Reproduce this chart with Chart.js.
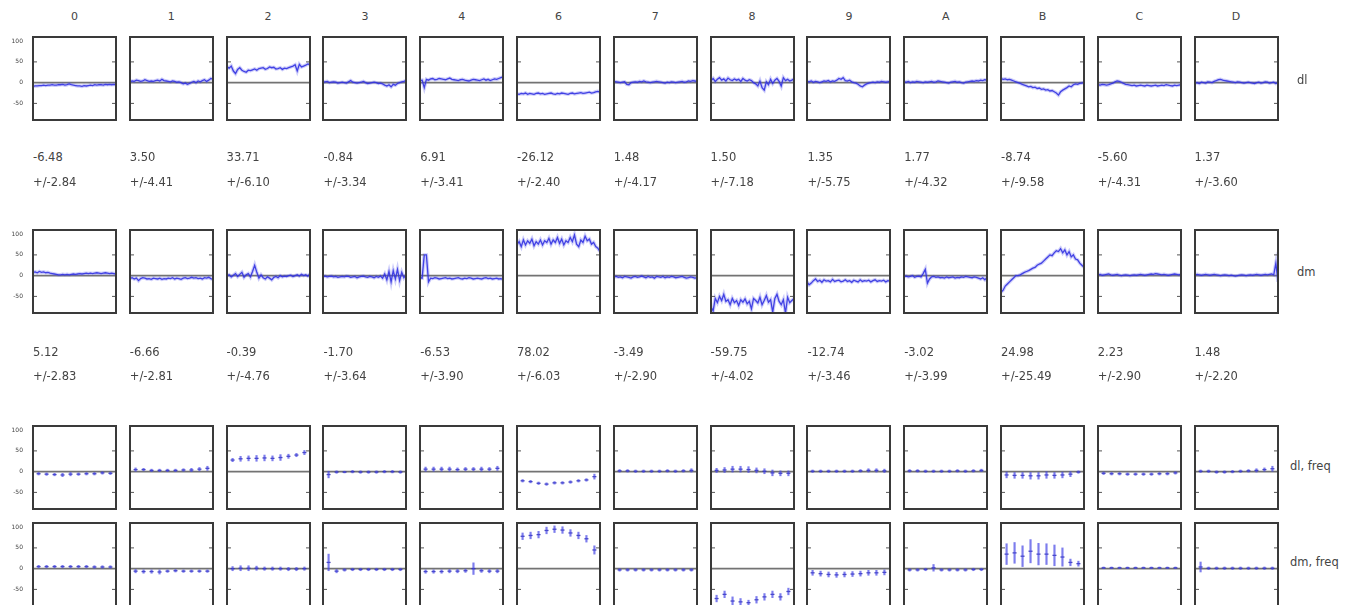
<!DOCTYPE html>
<html>
<head>
<meta charset="utf-8">
<script src="https://cdn.jsdelivr.net/npm/chart.js@4.4.0/dist/chart.umd.min.js"></script>
<style>
    html, body { margin: 0; padding: 0; background: #fff; overflow: hidden; }
    body { width: 1352px; height: 605px; position: relative; font-family: 'DejaVu Sans', sans-serif; color: #444; }
    canvas { position: absolute; }
    .lbl { position: absolute; font-size: 11.5px; line-height: 13px; white-space: nowrap; }
    .head { position: absolute; font-size: 11px; width: 83px; text-align: center; }
</style>
</head>
<body>
<script>
// colonnes (chiffres hex, sans le 5)
const columns = ['0', '1', '2', '3', '4', '6', '7', '8', '9', 'A', 'B', 'C', 'D'];
const rowNames = ['dl', 'dm', 'dl, freq', 'dm, freq'];
const yTicks = [-50, 0, 50, 100];

// séries temporelles, ligne "dl"
const dlData = [
    [-9,-8,-8,-7,-7,-6,-7,-6,-6,-5,-6,-6,-5,-5,-4,-6,-5,-3,-5,-6,-7,-8,-8,-9,-7,-8,-7,-6,-7,-5,-6,-5,-5,-6,-4,-5,-4,-5,-4,-5],
    [2,4,3,6,5,3,4,7,5,3,4,3,5,6,4,8,5,4,3,2,4,3,1,2,0,-3,-1,-4,-2,1,3,0,4,2,5,7,3,6,10,8],
    [38,35,40,28,22,32,36,30,27,25,30,29,31,33,30,34,35,36,32,34,38,36,37,33,34,36,32,35,34,36,38,40,43,28,44,38,40,42,45,43],
    [1,2,3,0,1,2,1,-1,0,1,0,-1,2,5,1,0,-1,0,1,3,0,-2,-1,0,1,0,-2,-1,-3,-6,-8,-5,-10,-4,-6,-2,0,2,3,5],
    [5,6,-12,8,6,9,10,7,8,10,9,8,7,9,11,8,7,6,5,7,8,6,5,4,6,8,7,6,5,7,9,6,8,5,7,9,8,10,12,14],
    [-27,-28,-26,-27,-25,-28,-26,-27,-28,-26,-25,-27,-26,-28,-27,-26,-25,-27,-28,-26,-27,-25,-26,-27,-28,-26,-25,-27,-26,-25,-24,-26,-25,-24,-23,-25,-24,-22,-21,-23],
    [3,2,1,0,1,2,-4,-5,0,1,2,1,3,2,4,2,1,0,1,2,3,2,1,0,-1,1,0,2,1,0,1,2,3,1,2,4,3,5,4,3],
    [5,10,3,8,12,6,9,4,11,7,5,9,6,8,3,10,6,4,7,5,0,-3,-8,4,-12,-18,2,-5,8,-2,6,10,3,-8,12,5,8,4,6,9],
    [3,2,4,1,3,2,0,2,4,3,5,2,4,3,6,10,8,12,5,4,6,2,0,-1,-4,-8,-10,-6,-3,-1,0,1,0,2,1,3,2,1,2,3],
    [2,1,3,0,2,1,3,2,1,0,2,1,2,3,1,2,4,3,2,1,0,-1,1,2,3,1,2,0,-1,1,2,3,4,3,5,4,6,5,7,6],
    [10,8,9,7,8,6,4,2,0,-2,-4,-6,-8,-10,-9,-12,-11,-14,-13,-16,-15,-18,-17,-20,-19,-22,-25,-30,-22,-18,-15,-12,-8,-10,-5,-3,-4,-2,-1,0],
    [-5,-6,-4,-5,-6,-5,-3,-1,2,4,3,1,-2,-4,-5,-6,-7,-6,-8,-7,-6,-7,-8,-6,-7,-8,-7,-6,-8,-7,-6,-7,-5,-6,-7,-8,-6,-7,-6,-5],
    [-1,0,-2,1,0,-1,2,1,0,3,5,7,8,6,5,4,3,2,1,0,2,1,0,-1,0,1,0,-1,-2,0,1,-1,0,2,1,-1,0,1,-2,0]
];

// séries temporelles, ligne "dm"
const dmData = [
    [8,9,7,10,8,9,7,8,6,5,4,3,2,2,3,2,3,2,3,4,3,4,5,4,5,6,5,6,5,6,7,6,5,6,7,6,5,6,5,4],
    [-7,-5,-8,-6,-12,-7,-5,-6,-8,-7,-9,-6,-7,-8,-6,-9,-7,-8,-6,-7,-5,-8,-6,-7,-9,-6,-5,-7,-6,-4,-6,-5,-7,-6,-8,-5,-6,-4,-7,-9],
    [0,2,-3,1,5,-2,3,8,-4,2,5,-3,10,25,8,-6,2,-5,-8,-3,-6,-10,-4,-2,-5,0,-3,-1,-2,0,1,-2,0,2,-1,3,0,2,-1,4],
    [-2,-1,-3,-2,-1,-3,-2,-4,-3,-2,-3,-1,-2,-4,-3,-2,-5,-3,-2,-1,-3,-4,-2,-3,-5,-2,-4,-1,-6,4,-10,10,-15,12,-8,15,-12,8,-5,2],
    [-5,-6,50,50,-15,-6,-7,-5,-6,-8,-7,-6,-5,-7,-6,-8,-7,-6,-5,-7,-8,-6,-7,-5,-6,-8,-7,-6,-7,-8,-6,-5,-7,-6,-8,-7,-6,-8,-7,-9],
    [75,82,70,86,74,84,78,88,72,82,76,86,74,84,80,90,76,86,80,92,78,88,74,84,80,92,82,98,76,70,86,80,95,84,88,76,80,70,66,58],
    [-3,-2,-4,-3,-5,-2,-3,-4,-6,-3,-2,-4,-3,-1,-3,-5,-2,-4,-3,-6,-2,-3,-4,-2,-5,-3,-4,-2,-3,-5,-4,-3,-2,-4,-6,-5,-3,-4,-6,-5],
    [-75,-85,-55,-65,-50,-60,-45,-62,-58,-70,-55,-65,-60,-72,-58,-64,-56,-68,-62,-80,-55,-60,-66,-52,-70,-60,-48,-64,-58,-88,-55,-45,-62,-70,-58,-90,-52,-65,-60,-55],
    [-15,-22,-18,-12,-8,-14,-11,-16,-10,-13,-12,-15,-9,-14,-12,-11,-15,-13,-10,-14,-12,-16,-11,-13,-15,-10,-14,-12,-13,-11,-15,-12,-10,-14,-12,-13,-11,-15,-12,-13],
    [-2,-1,-3,-2,0,-4,-2,-1,-3,5,15,-18,-8,-3,-2,-4,-3,-5,-4,-6,-3,-5,-4,-3,-6,-4,-5,-3,-4,-2,-3,-4,-5,-3,-4,-6,-8,-5,-10,-4],
    [-40,-35,-25,-20,-15,-10,-5,0,0,2,5,8,10,12,15,18,20,25,28,30,35,40,45,50,48,55,60,58,65,55,62,50,58,45,50,40,38,30,25,20],
    [2,3,1,2,3,4,2,1,2,3,1,0,1,2,1,0,1,2,1,2,3,2,1,2,3,4,3,5,4,3,2,3,2,1,2,3,4,3,2,3],
    [2,3,2,1,2,3,2,1,2,3,2,1,0,1,2,1,0,1,0,-1,0,1,2,1,0,1,2,1,2,3,2,1,2,3,2,3,4,2,30,-15]
];

// moyennes affichées sous les panneaux
const dlMean = ['-6.48', '3.50', '33.71', '-0.84', '6.91', '-26.12', '1.48', '1.50', '1.35', '1.77', '-8.74', '-5.60', '1.37'];
const dlErr = ['2.84', '4.41', '6.10', '3.34', '3.41', '2.40', '4.17', '7.18', '5.75', '4.32', '9.58', '4.31', '3.60'];
const dmMean = ['5.12', '-6.66', '-0.39', '-1.70', '-6.53', '78.02', '-3.49', '-59.75', '-12.74', '-3.02', '24.98', '2.23', '1.48'];
const dmErr = ['2.83', '2.81', '4.76', '3.64', '3.90', '6.03', '2.90', '4.02', '3.46', '3.99', '25.49', '2.90', '2.20'];

// points par fréquence (moyenne +/- erreur)
const dlFreqMean = [
    [-5,-6,-7,-8,-6,-6,-5,-5,-3,-4],
    [5,5,3,3,3,3,4,4,6,8],
    [28,31,32,32,33,32,34,37,40,46],
    [-7,-1,-1,0,-1,-1,-1,0,0,-1],
    [6,6,6,6,5,6,6,6,6,8],
    [-22,-24,-28,-30,-27,-27,-25,-22,-20,-12],
    [2,2,1,1,1,1,2,1,2,3],
    [3,4,6,6,5,3,1,-3,-4,-4],
    [1,1,1,1,1,1,2,3,3,2],
    [2,2,1,1,1,1,2,1,2,3],
    [-8,-9,-9,-10,-10,-8,-9,-8,-6,-1],
    [-4,-5,-5,-6,-6,-6,-6,-5,-5,-3],
    [1,1,-1,-1,0,1,2,3,5,7]
];
const dlFreqErr = [
    [3,3,3,4,4,3,3,3,3,3],
    [4,3,3,3,3,3,3,4,4,5],
    [4,6,6,7,7,6,7,5,4,5],
    [8,3,2,3,3,3,3,3,3,3],
    [5,5,5,5,4,4,4,5,4,5],
    [3,3,3,3,3,3,3,3,3,6],
    [3,3,3,3,3,3,3,3,3,4],
    [5,6,7,7,7,6,6,7,6,6],
    [3,3,3,3,3,3,3,4,4,4],
    [3,3,3,3,3,3,3,3,3,3],
    [7,7,7,8,8,8,7,7,6,3],
    [3,3,3,3,3,3,3,3,3,3],
    [3,3,3,3,3,3,3,4,4,6]
];
const dmFreqMean = [
    [5,5,5,5,5,5,5,4,4,4],
    [-6,-7,-7,-8,-6,-5,-6,-6,-6,-6],
    [0,1,1,1,0,0,0,-1,-1,0],
    [15,-6,-3,-2,-2,-2,-2,-2,-2,-2],
    [-7,-7,-7,-6,-6,-5,0,-5,-6,-6],
    [78,80,82,92,95,93,86,80,72,45],
    [-3,-3,-3,-3,-3,-3,-3,-3,-3,-3],
    [-72,-62,-78,-80,-82,-75,-68,-62,-68,-55],
    [-10,-12,-14,-15,-14,-13,-12,-10,-10,-9],
    [-3,-3,-2,2,-3,-3,-3,-3,-2,-2],
    [35,38,30,42,35,35,32,28,15,12],
    [2,2,2,2,2,2,2,2,2,2],
    [4,1,1,1,1,1,1,1,1,1]
];
const dmFreqErr = [
    [3,3,3,3,3,3,3,3,3,3],
    [4,4,4,5,3,3,3,3,3,3],
    [5,6,6,5,4,4,4,4,4,4],
    [20,4,3,3,3,3,3,3,3,3],
    [4,4,4,4,4,4,14,4,4,4],
    [8,8,8,8,8,8,8,8,8,10],
    [3,3,3,3,3,3,3,3,3,3],
    [8,8,10,8,6,8,8,8,8,8],
    [6,6,6,6,6,6,6,6,6,6],
    [3,3,3,8,3,3,3,3,3,3],
    [25,25,25,28,26,25,25,22,8,6],
    [2,2,2,2,2,2,2,2,2,2],
    [12,3,3,3,3,3,3,3,3,3]
];

Chart.defaults.font.family = "'DejaVu Sans', sans-serif";
Chart.defaults.animation = false;

// géométrie des panneaux
const BOX = 83;
const AXIS_W = 24;
const PAD = 6;
const colLeft = c => 33 + 96.8 * c;
const rowTop = [37, 230, 426, 523];

// cadre, ligne du zéro et petites graduations internes
const framePlugin = {
    id: 'frame',
    beforeDatasetsDraw(chart) {
        const { ctx, chartArea: a, scales: { y } } = chart;
        const y0 = y.getPixelForValue(0);
        ctx.save();
        ctx.strokeStyle = 'rgba(100,100,100,0.9)';
        ctx.lineWidth = 1.6;
        ctx.beginPath();
        ctx.moveTo(a.left, y0);
        ctx.lineTo(a.right, y0);
        ctx.stroke();
        ctx.restore();
    },
    afterDraw(chart) {
        const { ctx, chartArea: a, scales: { y } } = chart;
        ctx.save();
        ctx.strokeStyle = '#555';
        ctx.lineWidth = 1;
        [-50, 50].forEach(v => {
            const py = y.getPixelForValue(v);
            ctx.beginPath();
            ctx.moveTo(a.left, py); ctx.lineTo(a.left + 4, py);
            ctx.moveTo(a.right, py); ctx.lineTo(a.right - 4, py);
            ctx.stroke();
        });
        ctx.strokeStyle = '#3a3a3a';
        ctx.lineWidth = 2;
        ctx.strokeRect(a.left, a.top, a.right - a.left, a.bottom - a.top);
        ctx.restore();
    }
};

// même axe partout, étiquettes visibles seulement sur la première colonne
function yScale(showTicks) {
    return {
        min: -90,
        max: 110,
        afterBuildTicks: s => { s.ticks = yTicks.map(v => ({ value: v })); },
        afterFit: s => { s.width = AXIS_W; },
        grid: { display: false },
        border: { display: false },
        ticks: { font: { size: 6 }, color: showTicks ? '#444' : 'rgba(0,0,0,0)', padding: 2 }
    };
}

function makeCanvas(col, row) {
    const canvas = document.createElement('canvas');
    canvas.width = AXIS_W + BOX + PAD;
    canvas.height = BOX + 2 * PAD;
    canvas.style.left = (colLeft(col) - AXIS_W) + 'px';
    canvas.style.top = (rowTop[row] - PAD) + 'px';
    document.body.appendChild(canvas);
    return canvas;
}

const baseOptions = {
    responsive: false,
    layout: { padding: { top: PAD, right: PAD, bottom: PAD, left: 0 } },
    plugins: { legend: { display: false }, tooltip: { enabled: false } }
};

function createSeriesPanel(col, row, values) {
    const canvas = makeCanvas(col, row);
    const points = values.map((v, i) => ({ x: i, y: v }));
    return new Chart(canvas, {
        type: 'line',
        data: {
            datasets: [{
                // trait principal
                data: points,
                borderColor: 'rgba(50,50,225,0.9)',
                borderWidth: 1.3,
                pointRadius: 0,
                tension: 0
            }, {
                // halo clair autour du trait (bruit)
                data: points,
                borderColor: 'rgba(90,90,240,0.3)',
                borderWidth: 3.5,
                pointRadius: 0,
                tension: 0
            }]
        },
        options: {
            ...baseOptions,
            scales: {
                x: { type: 'linear', display: false, min: 0, max: values.length - 1 },
                y: yScale(col === 0)
            }
        },
        plugins: [framePlugin]
    });
}

function createFreqPanel(col, row, means, errs) {
    const canvas = makeCanvas(col, row);
    return new Chart(canvas, {
        type: 'bar',
        data: {
            datasets: [{
                type: 'bar',
                data: means.map((m, i) => ({ x: i + 1, y: [m - errs[i], m + errs[i]] })),
                backgroundColor: 'rgba(70,70,230,0.7)',
                barThickness: 1.5
            }, {
                type: 'scatter',
                data: means.map((m, i) => ({ x: i + 1, y: m })),
                pointStyle: 'line',
                pointRadius: 2,
                borderColor: 'rgba(40,40,170,0.85)',
                borderWidth: 1.3
            }]
        },
        options: {
            ...baseOptions,
            scales: {
                x: { type: 'linear', display: false, min: 0.3, max: means.length + 0.7, offset: false },
                y: yScale(col === 0)
            }
        },
        plugins: [framePlugin]
    });
}

function addText(cls, text, left, top) {
    const div = document.createElement('div');
    div.className = cls;
    div.textContent = text;
    div.style.left = left + 'px';
    div.style.top = top + 'px';
    document.body.appendChild(div);
}

columns.forEach((name, c) => {
    const left = colLeft(c);
    addText('head', name, left, 10);
    createSeriesPanel(c, 0, dlData[c]);
    createSeriesPanel(c, 1, dmData[c]);
    createFreqPanel(c, 2, dlFreqMean[c], dlFreqErr[c]);
    createFreqPanel(c, 3, dmFreqMean[c], dmFreqErr[c]);
    addText('lbl', dlMean[c], left, 151);
    addText('lbl', '+/-' + dlErr[c], left, 176);
    addText('lbl', dmMean[c], left, 346);
    addText('lbl', '+/-' + dmErr[c], left, 370);
});

// noms des lignes à droite
addText('lbl', rowNames[0], 1297, 74);
addText('lbl', rowNames[1], 1297, 266);
addText('lbl', rowNames[2], 1290, 460);
addText('lbl', rowNames[3], 1290, 556);
</script>
</body>
</html>
